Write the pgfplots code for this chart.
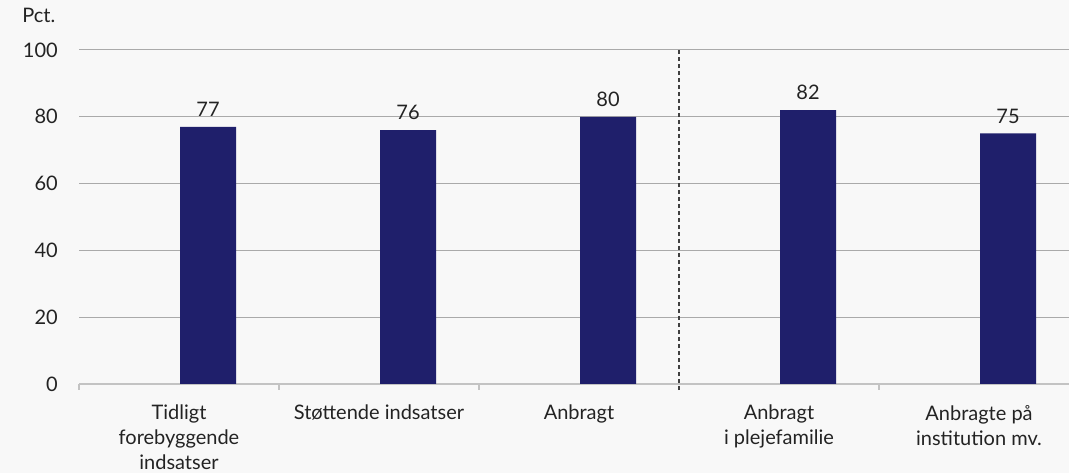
\documentclass[border=0pt]{standalone}
\usepackage{pgfplots}
\pgfplotsset{compat=1.18}
\usepackage{fontspec}
\setmainfont{Lato}

\definecolor{barblue}{RGB}{31,31,107}
\definecolor{bg}{RGB}{248,248,248}
\definecolor{gridgray}{RGB}{170,170,170}
\definecolor{axisgray}{RGB}{195,195,195}
\definecolor{txt}{RGB}{35,35,35}

\newcommand{\lblfont}{\fontsize{15}{18.75}\selectfont}

\begin{document}
\begin{tikzpicture}
\fill[bg] (0,0) rectangle (801.75pt,354.75pt);
\useasboundingbox (0,0) rectangle (801.75pt,354.75pt);

\begin{axis}[
    at={(59.25pt,66.75pt)}, anchor=south west,
    scale only axis,
    width=742.5pt, height=250.5pt,
    xmin=-0.5, xmax=4.45,
    ymin=0, ymax=100,
    clip=false,
    /pgf/number format/assume math mode=true,
    axis x line*=bottom,
    axis y line*=left,
    y axis line style={draw=none},
    x axis line style={draw=axisgray, line width=1.1pt},
    ymajorgrids,
    grid style={gridgray, line width=0.75pt},
    ytick={0,20,40,60,80,100},
    xtick={0,1,2,3,4},
    xticklabels={{Tidligt\\forebyggende\\indsatser},
                 {Støttende indsatser},
                 {Anbragt},
                 {Anbragt\\i plejefamilie},
                 {Anbragte på\\institution mv.}},
    major tick length=0pt,
    tick style={draw=axisgray, line width=1pt},
    extra x ticks={-0.5,0.5,1.5,3.5},
    extra x tick labels={},
    extra x tick style={major tick length=4.5pt, tick align=outside, grid=none},
    yticklabel style={font=\lblfont, color=txt, inner sep=0pt, anchor=east, xshift=-15.75pt},
    xticklabel style={font=\lblfont, color=txt, inner sep=0pt, align=center, anchor=north, yshift=-15.75pt},
    ybar,
    bar width=42pt,
    bar shift=21.75pt,
    nodes near coords,
    every node near coord/.append style={font=\lblfont, color=txt, inner sep=0pt, anchor=south, yshift=7.5pt},
]
\addplot[fill=barblue, draw=none] coordinates {
    (0,77) (1,76) (2,80) (3,82) (4,75)
};
\draw[color=black!75, line width=1pt, dash pattern=on 3pt off 2.25pt]
    (axis cs:2.5,-1.8) -- (axis cs:2.5,100);
\end{axis}

\node[anchor=base west, font=\lblfont, color=txt, inner sep=0pt] at (16.5pt,337.5pt) {Pct.};
\end{tikzpicture}
\end{document}
